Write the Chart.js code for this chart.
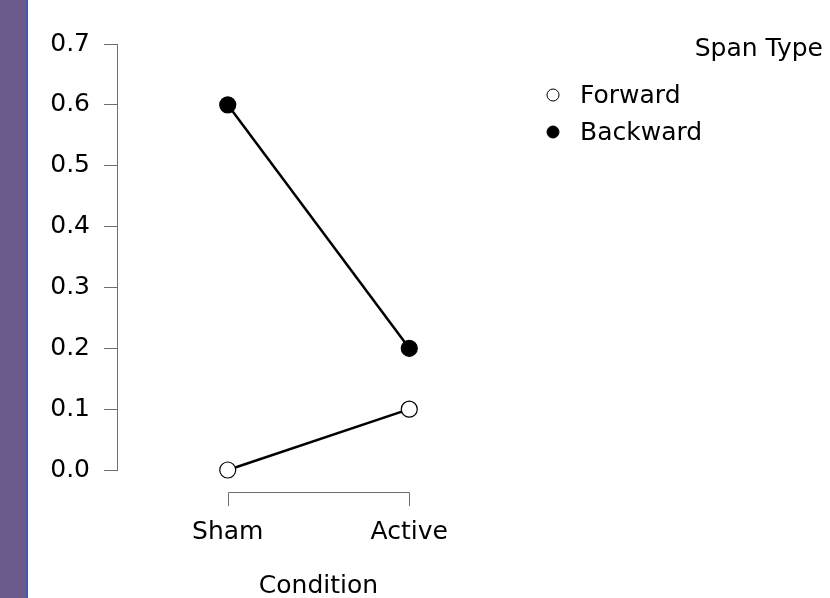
<!DOCTYPE html>
<html>
<head>
<meta charset="utf-8">
<script src="https://cdn.jsdelivr.net/npm/chart.js@4.4.0/dist/chart.umd.min.js"></script>
<style>
  html, body { margin: 0; padding: 0; background: #fff; }
  #wrap { position: relative; width: 830px; height: 598px; overflow: hidden; background: #fff; }
  #strip { position: absolute; left: 0; top: 0; width: 26px; height: 598px; background: #6b5b8c; border-right: 2px solid #3b5ea6; }
  canvas { position: absolute; left: 0; top: 0; }
</style>
</head>
<body>
<div id="wrap"><div id="strip"></div><canvas id="c" width="830" height="598"></canvas></div>
<script>
// Condition categories and mean values per span type
const conditions = ['Sham', 'Active'];
const forwardValues = [0.0, 0.1];
const backwardValues = [0.6, 0.2];
const yTickValues = [0.0, 0.1, 0.2, 0.3, 0.4, 0.5, 0.6, 0.7];
const legendTitle = 'Span Type';
const seriesNames = ['Forward', 'Backward'];
const xTitle = 'Condition';

const FONT = 'DejaVu Sans';
const FS = 25;
const AXIS_GREY = '#6e6e6e';

const toPoints = vals => vals.map((v, i) => ({ x: i, y: v }));

// Bracket-style x axis drawn beneath the plot area
const bracketAxis = {
  id: 'bracketAxis',
  afterDraw(chart) {
    const { ctx, scales: { x } } = chart;
    const x0 = x.getPixelForValue(0);
    const x1 = x.getPixelForValue(conditions.length - 1);
    const yTop = 492, yBot = 506;
    ctx.save();
    ctx.strokeStyle = AXIS_GREY;
    ctx.lineWidth = 1;
    ctx.beginPath();
    ctx.moveTo(Math.round(x0) + 0.5, yBot);
    ctx.lineTo(Math.round(x0) + 0.5, yTop + 0.5);
    ctx.lineTo(Math.round(x1) + 0.5, yTop + 0.5);
    ctx.lineTo(Math.round(x1) + 0.5, yBot);
    ctx.stroke();
    ctx.restore();
  }
};

// Legend with a right-aligned title and circle markers
const sideLegend = {
  id: 'sideLegend',
  afterDraw(chart) {
    const { ctx } = chart;
    ctx.save();
    ctx.font = FS + 'px "' + FONT + '"';
    ctx.fillStyle = '#000';
    ctx.textBaseline = 'middle';
    ctx.textAlign = 'right';
    ctx.fillText(legendTitle, 823, 49);
    ctx.textAlign = 'left';
    chart.data.datasets.forEach((ds, i) => {
      const cy = 96 + i * 37;
      ctx.beginPath();
      ctx.arc(553, cy - 1, 6, 0, Math.PI * 2);
      ctx.fillStyle = ds.pointBackgroundColor;
      ctx.fill();
      ctx.lineWidth = 1;
      ctx.strokeStyle = '#000';
      ctx.stroke();
      ctx.fillStyle = '#000';
      ctx.fillText(ds.label, 580, cy);
    });
    ctx.restore();
  }
};

new Chart(document.getElementById('c'), {
  type: 'line',
  data: {
    datasets: [
      {
        label: seriesNames[0],
        data: toPoints(forwardValues),
        borderColor: '#000',
        borderWidth: 2.5,
        pointRadius: 8,
        pointBorderWidth: 1.2,
        pointBackgroundColor: '#fff',
        pointBorderColor: '#000',
        clip: false
      },
      {
        label: seriesNames[1],
        data: toPoints(backwardValues),
        borderColor: '#000',
        borderWidth: 2.5,
        pointRadius: 8,
        pointBorderWidth: 1.2,
        pointBackgroundColor: '#000',
        pointBorderColor: '#000',
        clip: false
      }
    ]
  },
  options: {
    responsive: false,
    animation: false,
    devicePixelRatio: 1,
    layout: { padding: { top: 44, left: 0, right: 310, bottom: 0 } },
    plugins: { legend: { display: false }, tooltip: { enabled: false } },
    scales: {
      x: {
        type: 'linear',
        min: -0.61,
        max: 1.61,
        afterFit(scale) { scale.height = 128; },
        afterBuildTicks(scale) { scale.ticks = conditions.map((_, i) => ({ value: i })); },
        grid: { display: false },
        border: { display: false },
        ticks: {
          autoSkip: false,
          maxRotation: 0,
          padding: 39,
          color: '#000',
          font: { family: FONT, size: FS },
          callback: v => conditions[v]
        },
        title: {
          display: true,
          text: xTitle,
          color: '#000',
          font: { family: FONT, size: FS },
          padding: { top: 0, bottom: -3 }
        }
      },
      y: {
        min: 0,
        max: 0.7,
        afterFit(scale) { scale.width = 117; },
        afterBuildTicks(scale) { scale.ticks = yTickValues.map(v => ({ value: v })); },
        grid: { display: true, drawOnChartArea: false, drawTicks: true, tickLength: 13, color: AXIS_GREY },
        border: { display: true, color: AXIS_GREY, width: 1 },
        ticks: {
          padding: 14,
          color: '#000',
          font: { family: FONT, size: FS },
          callback: v => v.toFixed(1)
        }
      }
    }
  },
  plugins: [bracketAxis, sideLegend]
});
</script>
</body>
</html>
